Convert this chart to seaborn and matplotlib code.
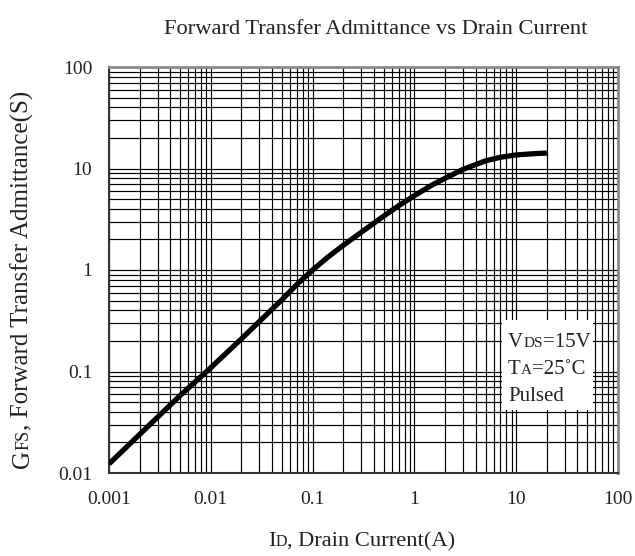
import matplotlib
matplotlib.use("Agg")
import matplotlib.pyplot as plt
import matplotlib.ticker as mticker
from matplotlib.patches import Rectangle
import seaborn as sns
import pandas as pd

# ---- data ----
drain_current = [0.001, 0.002, 0.005, 0.01, 0.02, 0.05, 0.07, 0.1, 0.14, 0.2,
                 0.3, 0.5, 0.7, 1, 1.5, 2, 3, 5, 7, 10, 15, 20]
admittance = [0.0123, 0.024, 0.058, 0.109, 0.21, 0.51, 0.72, 1.0, 1.33, 1.75,
              2.35, 3.4, 4.3, 5.4, 6.9, 8.0, 9.8, 11.9, 12.9, 13.6, 14.0, 14.2]
x_ticks = [0.001, 0.01, 0.1, 1, 10, 100]
x_tick_labels = ["0.001", "0.01", "0.1", "1", "10", "100"]
y_ticks = [0.01, 0.1, 1, 10, 100]
y_tick_labels = ["0.01", "0.1", "1", "10", "100"]
title = "Forward Transfer Admittance vs Drain Current"
x_label = [("I", "big"), ("D", "small"), (", Drain Current(A)", "big")]
y_label = [("G", "big"), ("FS", "small"),
           (", Forward Transfer Admittance(S)", "big")]
conditions = [[("V", "big"), ("DS", "small"), ("=15V", "big")],
              [("T", "big"), ("A", "small"), ("=25˚C", "big")],
              [("Pulsed", "big")]]

sns.set_theme(style="white")
plt.rcParams["font.family"] = ["Liberation Serif", "DejaVu Serif"]

W, H = 635, 556
fig = plt.figure(figsize=(W / 100, H / 100), dpi=100)
ax = fig.add_axes([109 / W, 1 - 473 / H, 509 / W, 406 / H])

df = pd.DataFrame({"Id": drain_current, "Gfs": admittance})
sns.lineplot(data=df, x="Id", y="Gfs", ax=ax, color="black", linewidth=3.8,
             solid_capstyle="butt", solid_joinstyle="round", zorder=5)

ax.set_xscale("log")
ax.set_yscale("log")
ax.set_xlim(0.001, 100)
ax.set_ylim(0.01, 100)
ax.set_xticks(x_ticks)
ax.set_xticklabels(x_tick_labels)
ax.set_yticks(y_ticks)
ax.set_yticklabels(y_tick_labels)
ax.xaxis.set_minor_locator(mticker.LogLocator(base=10, subs=range(2, 10)))
ax.yaxis.set_minor_locator(mticker.LogLocator(base=10, subs=range(2, 10)))
ax.xaxis.set_minor_formatter(mticker.NullFormatter())
ax.yaxis.set_minor_formatter(mticker.NullFormatter())
ax.tick_params(which="both", length=0, labelsize=14, colors="#222222")
ax.tick_params(axis="x", pad=13)
ax.tick_params(axis="y", pad=12)
ax.grid(True, which="both", color="black", linewidth=0.85)
ax.set_xlabel("")
ax.set_ylabel("")
for side in ["left", "bottom"]:
    ax.spines[side].set_color("#333333")
    ax.spines[side].set_linewidth(1.5)
for side in ["top", "right"]:
    ax.spines[side].set_color("#8a8a8a")
    ax.spines[side].set_linewidth(2.0)

TXT = "#222222"
renderer = fig.canvas.get_renderer()


def place_h(x_px, y_px, pieces, big, small, center=False, z=3):
    """Pieces on one baseline (pixel coords from top-left)."""
    arts, cur = [], x_px
    for s, kind in pieces:
        fs = big if kind == "big" else small
        t = fig.text(cur / W, 1 - y_px / H, s, fontsize=fs, va="baseline",
                     ha="left", color=TXT, zorder=z)
        cur = t.get_window_extent(renderer).x1
        arts.append(t)
    if center:
        total = cur - x_px
        for t in arts:
            px, py = t.get_position()
            t.set_x(px - total / 2 / W)
    return arts


def place_v(x_px, y_px, pieces, big, small):
    """Rotated pieces reading upward, centred on y_px (pixels from top)."""
    arts, cur = [], H - y_px
    for s, kind in pieces:
        fs = big if kind == "big" else small
        t = fig.text(x_px / W, cur / H, s, fontsize=fs, rotation=90,
                     rotation_mode="anchor", va="baseline", ha="left",
                     color=TXT)
        cur = t.get_window_extent(renderer).y1
        arts.append(t)
    total = cur - (H - y_px)
    for t in arts:
        px, py = t.get_position()
        t.set_y(py - total / 2 / H)
    return arts


# title
fig.text(376 / W, 1 - 29 / H, title, fontsize=16.2, ha="center", va="center",
         color=TXT)

# axis labels
place_h(362, 546, x_label, 16.2, 11.5, center=True)
place_v(29, 279, y_label, 18, 13)

# condition box
fig.patches.append(Rectangle((502 / W, 1 - 410 / H), 91 / W, 90 / H,
                             transform=fig.transFigure, facecolor="white",
                             edgecolor="none", zorder=6))
for i, line in enumerate(conditions):
    place_h(508, 347 + 27 * i, line, 15, 11, z=7)

fig.savefig("out.png", dpi=100)
